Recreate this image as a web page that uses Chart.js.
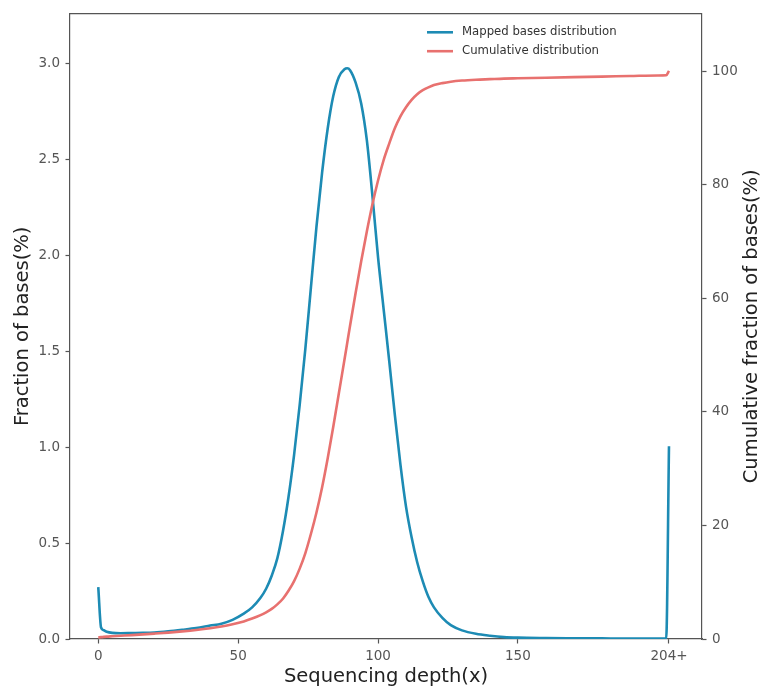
<!DOCTYPE html>
<html>
<head>
<meta charset="utf-8">
<script src="https://cdn.jsdelivr.net/npm/chart.js@4.4.0/dist/chart.umd.min.js"></script>
<style>
  html, body { margin: 0; padding: 0; background: #fff; }
  canvas { display: block; }
</style>
</head>
<body>
<canvas id="depthChart" width="765" height="693"></canvas>
<script>
// sequencing depth (x) at which values were read
var depth = [0, 1, 2, 3, 5, 8, 12, 16, 20, 25, 30, 35, 40, 44, 48, 52, 55, 58, 60, 62,
  64, 66, 68, 70, 72, 74, 76, 78, 80, 82, 84, 86, 88, 89, 90, 92, 94, 96, 98, 100,
  102, 104, 106, 108, 110, 112, 114, 116, 118, 120, 123, 126, 130, 135, 140, 145, 150, 160, 170, 180,
  190, 200, 203, 204]

// fraction of bases (%)
var mapped = [0.27, 0.06, 0.045, 0.038, 0.032, 0.030, 0.031, 0.032, 0.034, 0.040, 0.048, 0.057, 0.070, 0.080, 0.100, 0.132, 0.165, 0.215, 0.262, 0.33,
  0.42, 0.56, 0.74, 0.96, 1.22, 1.51, 1.83, 2.15, 2.43, 2.66, 2.83, 2.93, 2.97, 2.975, 2.965, 2.90, 2.79, 2.60, 2.31, 1.99,
  1.72, 1.45, 1.17, 0.91, 0.69, 0.53, 0.40, 0.30, 0.22, 0.165, 0.11, 0.072, 0.045, 0.027, 0.017, 0.010, 0.007, 0.005, 0.004, 0.003,
  0.002, 0.002, 0.002, 1.005]

// cumulative fraction of bases (%)
var cumulative = [0.27, 0.33, 0.38, 0.42, 0.48, 0.57, 0.69, 0.82, 0.95, 1.13, 1.35, 1.6, 1.9, 2.2, 2.6, 3.1, 3.6, 4.2, 4.7, 5.3,
  6.1, 7.1, 8.5, 10.2, 12.4, 15.1, 18.5, 22.3, 26.7, 31.8, 37.4, 43.3, 49.2, 52.2, 55.2, 61.0, 66.6, 71.8, 76.6, 80.8,
  84.4, 87.3, 90.0, 92.1, 93.7, 95.0, 96.0, 96.7, 97.2, 97.6, 97.95, 98.2, 98.4, 98.55, 98.65, 98.75, 98.8, 98.9, 99.0, 99.1,
  99.2, 99.3, 99.33, 100.1]

var xTickValues = [0, 50, 100, 150, 204]
var xTickLabels = ['0', '50', '100', '150', '204+']
var leftTicks = [0, 0.5, 1.0, 1.5, 2.0, 2.5, 3.0]
var rightTicks = [0, 20, 40, 60, 80, 100]

var blue = '#1d8bb4'
var red = '#e8716f'
var axisColor = '#555'
var font = 'DejaVu Sans'

function toPoints(ys) {
  return depth.map(function(d, i) { return {x: d, y: ys[i]} })
}

var extras = {
  id: 'extras',
  afterDraw: function(chart) {
    var a = chart.chartArea
    var ctx = chart.ctx
    ctx.save()
    // top frame line
    ctx.strokeStyle = axisColor
    ctx.lineWidth = 1.2
    ctx.beginPath()
    ctx.moveTo(a.left, a.top)
    ctx.lineTo(a.right, a.top)
    ctx.stroke()

    // right axis title, reads bottom to top
    ctx.save()
    ctx.translate(752, (a.top + a.bottom) / 2)
    ctx.rotate(-Math.PI / 2)
    ctx.fillStyle = '#222'
    ctx.font = '19.5px "' + font + '"'
    ctx.textAlign = 'center'
    ctx.textBaseline = 'middle'
    ctx.fillText('Cumulative fraction of bases(%)', 0, 0)
    ctx.restore()

    // legend inside plot
    ctx.font = '11.7px "' + font + '"'
    ctx.textAlign = 'left'
    ctx.textBaseline = 'middle'
    chart.data.datasets.forEach(function(ds, i) {
      var y = 32.3 + i * 18.9
      ctx.strokeStyle = ds.borderColor
      ctx.lineWidth = 2.6
      ctx.beginPath()
      ctx.moveTo(427, y)
      ctx.lineTo(453, y)
      ctx.stroke()
      ctx.fillStyle = '#333'
      ctx.fillText(ds.label, 462, y)
    })
    ctx.restore()
  }
}

var ctx = document.getElementById('depthChart').getContext('2d')
var chart = new Chart(ctx, {
  type: 'line',
  data: {
    datasets: [
      {
        label: 'Mapped bases distribution',
        data: toPoints(mapped),
        borderColor: blue,
        borderWidth: 2.6,
        pointRadius: 0,
        cubicInterpolationMode: 'monotone',
        yAxisID: 'y',
        order: 1
      },
      {
        label: 'Cumulative distribution',
        data: toPoints(cumulative),
        borderColor: red,
        borderWidth: 2.6,
        pointRadius: 0,
        cubicInterpolationMode: 'monotone',
        yAxisID: 'y2',
        order: 0
      }
    ]
  },
  options: {
    responsive: false,
    animation: false,
    devicePixelRatio: 1,
    layout: { padding: { top: 10, left: 0, right: 0, bottom: 0 } },
    plugins: { legend: { display: false }, tooltip: { enabled: false } },
    scales: {
      x: {
        type: 'linear',
        min: -10.1,
        max: 215.8,
        afterBuildTicks: function(s) { s.ticks = xTickValues.map(function(v) { return {value: v} }) },
        afterFit: function(s) { s.height = 54 },
        ticks: {
          autoSkip: false, maxRotation: 0, padding: 5, color: axisColor,
          font: { family: font, size: 13.5 },
          callback: function(v, i) { return xTickLabels[i] }
        },
        grid: { drawOnChartArea: false, tickLength: 4.5, tickColor: axisColor, tickWidth: 1.2 },
        border: { color: axisColor, width: 1.2 },
        title: {
          display: true, text: 'Sequencing depth(x)', color: '#222',
          font: { family: font, size: 19.5 }, padding: { top: 0, bottom: 4 }
        }
      },
      y: {
        position: 'left',
        min: 0,
        max: 3.26,
        afterBuildTicks: function(s) { s.ticks = leftTicks.map(function(v) { return {value: v} }) },
        afterFit: function(s) { s.width = 70 },
        ticks: {
          padding: 5.5, color: axisColor, font: { family: font, size: 13.5 },
          callback: function(v) { return v.toFixed(1) }
        },
        grid: { drawOnChartArea: false, tickLength: 4.5, tickColor: axisColor, tickWidth: 1.2 },
        border: { color: axisColor, width: 1.2 },
        title: {
          display: true, text: 'Fraction of bases(%)', color: '#222',
          font: { family: font, size: 19.5 }, padding: { top: 11, bottom: 0 }
        }
      },
      y2: {
        position: 'right',
        min: 0,
        max: 110.2,
        afterBuildTicks: function(s) { s.ticks = rightTicks.map(function(v) { return {value: v} }) },
        afterFit: function(s) { s.width = 63 },
        ticks: {
          padding: 5.5, color: axisColor, font: { family: font, size: 13.5 },
          callback: function(v) { return String(v) }
        },
        grid: { drawOnChartArea: false, tickLength: 4.5, tickColor: axisColor, tickWidth: 1.2 },
        border: { color: axisColor, width: 1.2 }
      }
    }
  },
  plugins: [extras]
})
</script>
</body>
</html>
